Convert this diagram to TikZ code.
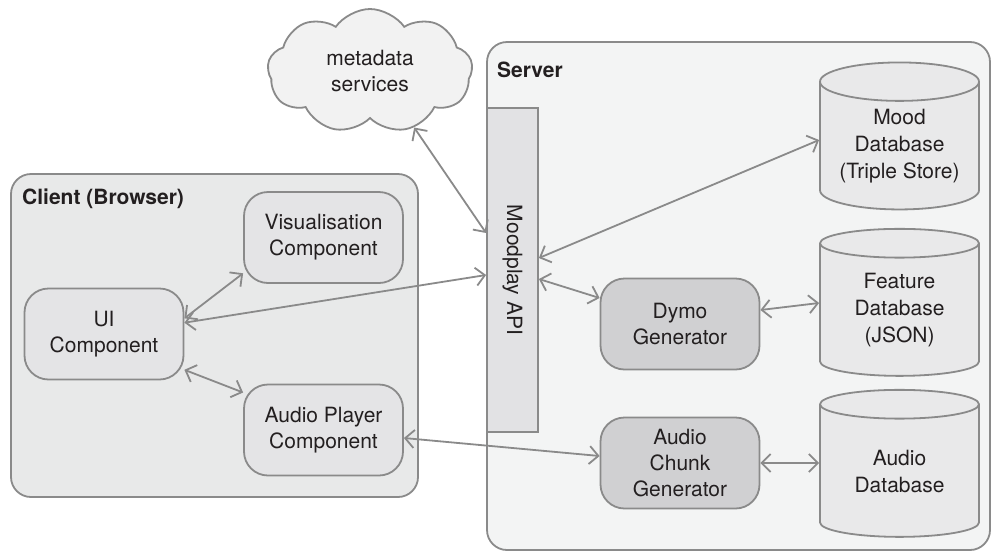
\documentclass[tikz,border=0pt]{standalone}
\usepackage{fontspec}
\setmainfont{TeX Gyre Heros}
\usepackage{tikz}
\usetikzlibrary{shapes.geometric, shapes.symbols, arrows.meta, positioning, calc}
\definecolor{linegray}{RGB}{138,138,138}
\definecolor{textdark}{RGB}{35,31,32}
\definecolor{clientfill}{RGB}{232,233,233}
\definecolor{serverfill}{RGB}{243,244,244}
\definecolor{compfill}{RGB}{228,228,230}
\definecolor{genfill}{RGB}{208,208,210}
\definecolor{apifill}{RGB}{226,226,228}
\definecolor{dbfill}{RGB}{233,233,234}
\definecolor{cloudfill}{RGB}{242,242,242}

\begin{document}
\begin{tikzpicture}[
  x=1pt, y=-1pt,
  font=\fontsize{21}{26}\selectfont, text=textdark,
  group/.style={draw=linegray, line width=1.8pt, rounded corners=20pt},
  grouplabel/.style={anchor=west, inner sep=0pt, font=\fontsize{21}{26}\selectfont\bfseries},
  comp/.style={rectangle, rounded corners=24pt, draw=linegray, line width=1.8pt,
    fill=compfill, minimum width=159pt, minimum height=91pt, align=center, inner sep=0pt},
  gen/.style={comp, fill=genfill},
  db/.style={cylinder, shape border rotate=90, aspect=0.32, draw=linegray,
    line width=1.8pt, fill=dbfill, minimum width=159pt, minimum height=147pt,
    align=center, inner sep=0pt, font=\fontsize{21}{27}\selectfont},
  link/.style={{Straight Barb[length=9pt,width=18pt]}-{Straight Barb[length=9pt,width=18pt]},
    draw=linegray, line width=1.8pt}
]
\useasboundingbox (0,0) rectangle (992,552);

% containers
\draw[group, fill=serverfill] (487,42) rectangle (990,550);
\node[grouplabel] (serverlbl) at (497,70) {Server};
\draw[group, fill=clientfill] (11,174) rectangle (418,497);
\node[grouplabel] (clientlbl) at (22,199) {Client (Browser)};

% client side
\node[comp] (vis) at (323.5,237.5) {Visualisation\\Component};
\node[comp] (ui) at (104,334) {UI\\Component};
\node[comp] (ap) at (323.5,430) {Audio Player\\Component};

% server side
\node[rectangle, draw=linegray, line width=1.8pt, fill=apifill,
  minimum width=51pt, minimum height=324pt] (api) at (512.5,270) {};
\node[rotate=-90] (apilbl) at (api.center) {Moodplay API};
\node[gen] (dymo) at (680,324) {Dymo\\Generator};
\node[gen] (chunk) at (680,463) {Audio\\Chunk\\Generator};
\node[db] (mood) at (899.5,146) {Mood\\Database\\(Triple Store)};
\node[db] (feat) at (899.5,310) {Feature\\Database\\(JSON)};
\node[db] (audiodb) at (899.5,471) {Audio\\Database};

\node[cloud, cloud puffs=9, cloud puff arc=110, aspect=1.8, draw=linegray,
  line width=1.8pt, fill=cloudfill, minimum width=205pt, minimum height=124pt,
  align=center, inner sep=0pt] (meta) at (370,71) {metadata\\services};

% connections
\draw[link] (meta.-52) -- ([yshift=37pt]api.west);
\draw[link] (ui.11) -- (vis.204);
\draw[link] (ui.8) -- ([yshift=-5pt]api.west);
\draw[link] (ui.-24) -- (ap.155);
\draw[link] ([yshift=-8pt]ap.east) -- ([yshift=7pt]chunk.west);
\draw[link] ([yshift=12pt]api.east) -- ([yshift=6pt]mood.west);
\draw[link] ([yshift=-9pt]api.east) -- ([yshift=26pt]dymo.west);
\draw[link] ([yshift=14pt]dymo.east) -- ([yshift=7pt]feat.west);
\draw[link] (chunk.east) -- ([yshift=8pt]audiodb.west);

\end{tikzpicture}
\end{document}
